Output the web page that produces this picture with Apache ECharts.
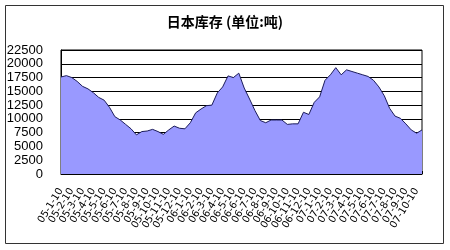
<!DOCTYPE html>
<html>
<head>
<meta charset="utf-8">
<script src="https://cdn.jsdelivr.net/npm/echarts@6/dist/echarts.min.js"></script>
<style>
html,body{margin:0;padding:0;background:#fff;}
#c{width:450px;height:250px;}
</style>
</head>
<body>
<div id="c"></div>
<script>
var titleText = "日本库存 (单位:吨)";
var categories = [
"05-1-10","05-1-25","05-2-10","05-2-25","05-3-10","05-3-25","05-4-10","05-4-25",
"05-5-10","05-5-25","05-6-10","05-6-25","05-7-10","05-7-25","05-8-10","05-8-25",
"05-9-10","05-9-25","05-10-10","05-10-25","05-11-10","05-11-25","05-12-10","05-12-25",
"06-1-10","06-1-25","06-2-10","06-2-25","06-3-10","06-3-25","06-4-10","06-4-25",
"06-5-10","06-5-25","06-6-10","06-6-25","06-7-10","06-7-25","06-8-10","06-8-25",
"06-9-10","06-9-25","06-10-10","06-10-25","06-11-10","06-11-25","06-12-10","06-12-25",
"07-1-10","07-1-25","07-2-10","07-2-25","07-3-10","07-3-25","07-4-10","07-4-25",
"07-5-10","07-5-25","07-6-10","07-6-25","07-7-10","07-7-25","07-8-10","07-8-25",
"07-9-10","07-9-25","07-10-10","07-10-25"
];
var stock = [
17600,17850,17500,16800,15900,15450,14750,13900,
13400,12100,10400,9800,9000,8200,7100,7700,
7800,8100,7700,7200,8000,8700,8300,8200,
9300,11100,11800,12400,12500,14700,15800,17800,
17500,18300,15600,13600,11500,9700,9300,9800,
9800,9800,9000,9100,9100,11200,10800,13000,
14000,17000,18000,19300,18000,18900,18600,18300,
18000,17700,17000,15800,14200,11900,10500,10100,
9100,8000,7400,8000
];
var yMin = 0, yMax = 22500, yStep = 2500;

var labelStyle = {rotate: 58, margin: 15, fontSize: 10, color: '#000',
  fontFamily: '"DejaVu Sans", sans-serif'};
var lastLabelIdx = categories.length - 2;

var chart = echarts.init(document.getElementById('c'), null, {renderer:'canvas'});
chart.setOption({
  animation: false,
  backgroundColor: '#fff',
  graphic: [{
    type: 'rect', silent: true, z: -1,
    shape: {x: 5.5, y: 5.5, width: 438, height: 238},
    style: {fill: 'none', stroke: '#333', lineWidth: 1}
  }],
  title: {
    text: titleText, left: 'center', top: 10,
    textStyle: {fontSize: 14, fontWeight: 'bold', color: '#000',
      fontFamily: '"Noto Sans CJK SC", sans-serif'}
  },
  grid: {left: 61, top: 50, right: 28, bottom: 76, show: true,
    borderColor: '#000', borderWidth: 1, backgroundColor: '#fff'},
  xAxis: [{
    type: 'category', data: categories, boundaryGap: false, position: 'bottom',
    axisLine: {lineStyle: {color: '#000', width: 1}},
    axisTick: {show: true, inside: true, length: 3, interval: 0, lineStyle: {color: '#000'}},
    axisLabel: Object.assign({interval: 1, showMinLabel: false, showMaxLabel: false}, labelStyle),
    splitLine: {show: false}
  }, {
    type: 'category', data: categories, boundaryGap: false, position: 'bottom',
    axisLine: {show: false}, axisTick: {show: false}, splitLine: {show: false},
    axisLabel: Object.assign({interval: function (i) { return i === 0 || i === lastLabelIdx; }}, labelStyle)
  }],
  yAxis: {
    type: 'value', min: yMin, max: yMax, interval: yStep,
    axisLine: {show: true, lineStyle: {color: '#000'}},
    axisTick: {show: false},
    axisLabel: {fontSize: 13, color: '#000', margin: 18,
      formatter: function (v) { return String(v); },
      fontFamily: '"Liberation Sans", Arial, sans-serif'},
    splitLine: {show: true, lineStyle: {color: '#000', width: 1}}
  },
  series: [{
    type: 'line', data: stock, symbol: 'none', smooth: false, xAxisIndex: 0,
    lineStyle: {color: '#1c1c5a', width: 1},
    areaStyle: {color: '#9999ff', opacity: 1}
  }]
});
</script>
</body>
</html>
